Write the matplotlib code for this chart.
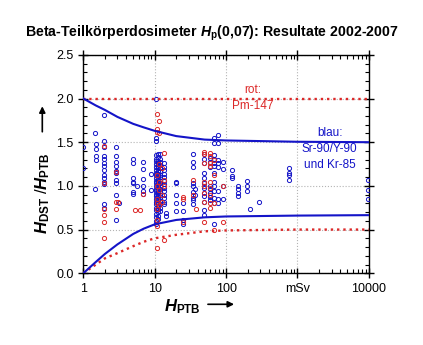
import matplotlib
matplotlib.use('Agg')
import matplotlib.pyplot as plt
from matplotlib.ticker import FixedLocator, MultipleLocator, NullFormatter, FormatStrFormatter
import numpy as np

plt.rcParams['font.family'] = ['Liberation Sans', 'DejaVu Sans']
plt.rcParams['mathtext.fontset'] = 'custom'
plt.rcParams['mathtext.it'] = 'Liberation Sans:italic:bold'
plt.rcParams['mathtext.rm'] = 'Liberation Sans:bold'

# dose ratio H_DST/H_PTB per irradiation, grouped by reference dose H_PTB (mSv)
blue_cols = {
    1.0: [1.45, 1.21],
    1.45: [1.61, 0.96],
    1.5: [1.48, 1.42, 1.34, 1.30],
    1.95: [1.81, 1.51, 1.45, 1.34, 1.31, 1.26, 1.23, 1.18, 1.13, 1.09, 1.05, 1.02, 0.79, 0.75],
    2.9: [1.44, 1.34, 1.27, 1.23, 1.17, 1.15, 1.07, 1.03, 0.90, 0.61],
    3.2: [0.80],
    4.9: [1.31, 1.26, 1.09, 1.05, 1.03, 0.93, 0.91],
    5.6: [1.0],
    6.9: [1.27, 1.19, 1.08, 1.0, 0.94, 0.91],
    8.9: [1.14, 0.95],
    10.5: [2.0, 1.55, 1.51, 1.35, 1.31, 1.28, 1.25, 1.22, 1.18, 1.15, 1.12, 1.09, 1.06, 1.03,
           1.0, 0.97, 0.94, 0.91, 0.88, 0.85, 0.82, 0.79, 0.75, 0.72, 0.68, 0.64, 0.60, 0.56],
    11.2: [1.37, 1.33, 1.29, 1.26, 1.23, 1.20, 1.17, 1.14, 1.11, 1.08, 1.05, 1.02, 0.99, 0.96,
           0.93, 0.90, 0.87, 0.84, 0.80, 0.77, 0.74, 0.70, 0.66, 0.62],
    12.0: [1.36, 1.31, 1.27, 1.24, 1.20, 1.17, 1.13, 1.10, 1.06, 1.03, 1.0, 0.97, 0.94, 0.90,
           0.87, 0.83, 0.79, 0.75, 0.71],
    13.5: [1.26, 1.22, 1.18, 1.14, 1.10, 1.06, 1.02, 0.98, 0.94, 0.90, 0.86, 0.82, 0.79],
    14.5: [0.69, 0.65],
    19.8: [1.05, 1.03, 0.90, 0.80, 0.71],
    25: [0.80, 0.71, 0.61, 0.56],
    34: [1.36, 1.27, 1.22, 1.03, 1.0, 0.93, 0.86, 0.84, 0.79],
    37: [0.97, 0.90],
    49: [1.36, 1.31, 1.26, 1.15, 1.09, 1.03, 0.98, 0.92, 0.88, 0.82, 0.72, 0.67],
    60: [1.32, 1.27, 1.22, 1.0, 0.96, 0.92, 0.87, 0.84],
    68: [1.55, 1.49, 1.35, 1.31, 1.26, 1.23, 1.15, 1.05, 1.0, 0.94, 0.86, 0.80, 0.56],
    78: [1.58, 1.49, 1.30, 1.26, 1.22, 0.94, 0.85, 0.80],
    90: [1.27, 1.19, 1.0, 0.85],
    120: [1.18, 1.11, 1.09],
    145: [1.0, 0.96, 0.92, 0.88],
    195: [1.06, 1.0, 0.94],
    215: [0.74],
    290: [0.81],
    760: [1.21, 1.15, 1.12, 1.07],
    9800: [1.07, 0.95, 0.85],
}

red_cols = {
    1.95: [1.46, 1.03, 0.73, 0.67, 0.59, 0.40],
    2.9: [1.16, 0.82, 0.73],
    3.1: [0.81],
    5.3: [0.72],
    6.3: [0.72],
    6.9: [0.91],
    10.7: [1.82, 1.65, 1.62, 1.12, 1.0, 0.85, 0.80, 0.73, 0.61, 0.54, 0.29],
    11.5: [1.74, 1.60, 1.25, 1.05, 0.95, 0.78],
    12.5: [1.20, 0.90, 0.82],
    13.5: [1.38, 1.07, 1.0, 0.38],
    25: [0.87, 0.85, 0.59],
    34: [1.07, 0.89],
    38: [0.74],
    49: [1.39, 1.36, 1.26, 1.05, 1.0, 0.92, 0.82, 0.59],
    60: [1.38, 1.34, 1.26, 1.23, 1.05, 0.98, 0.90, 0.80, 0.75],
    68: [1.30, 1.13, 0.80, 0.50],
    90: [1.0, 0.59],
}

# limit curves
blue_up_x = [1, 1.5, 2, 3, 5, 7, 10, 20, 50, 100, 1000, 10000]
blue_up_y = [2.0, 1.92, 1.87, 1.79, 1.71, 1.67, 1.63, 1.57, 1.53, 1.52, 1.505, 1.5]
blue_lo_x = [1, 1.5, 2, 3, 5, 7, 10, 20, 50, 100, 1000, 10000]
blue_lo_y = [0.0, 0.13, 0.22, 0.33, 0.45, 0.51, 0.56, 0.61, 0.64, 0.65, 0.66, 0.665]
red_up_x = [1, 10000]
red_up_y = [2.0, 2.0]
red_lo_x = [1, 1.5, 2, 3, 5, 7, 10, 20, 50, 100, 1000, 10000]
red_lo_y = [0.0, 0.1, 0.17, 0.23, 0.31, 0.36, 0.40, 0.44, 0.48, 0.49, 0.5, 0.5]

blue = '#1414c8'
red = '#dc2828'


def flatten(cols):
    xs, ys = [], []
    for x, vals in cols.items():
        xs += [x] * len(vals)
        ys += vals
    return np.array(xs), np.array(ys)


fig = plt.figure(figsize=(4.23, 3.45), dpi=100)
ax = fig.add_axes([0.197, 0.208, 0.675, 0.633])

bx, by = flatten(blue_cols)
rx, ry = flatten(red_cols)
ax.plot(bx, by, 'o', mfc='none', mec=blue, ms=3.0, mew=0.7, zorder=3)
ax.plot(rx, ry, 'o', mfc='none', mec=red, ms=3.0, mew=0.7, zorder=3)

ax.plot(red_up_x, red_up_y, ':', color=red, lw=1.7, zorder=4)
ax.plot(red_lo_x, red_lo_y, ':', color=red, lw=1.7, zorder=4)
ax.plot(blue_up_x, blue_up_y, '-', color=blue, lw=1.5, zorder=5)
ax.plot(blue_lo_x, blue_lo_y, '-', color=blue, lw=1.5, zorder=5)

ax.set_xscale('log')
ax.set_xlim(1, 10000)
ax.set_ylim(0, 2.5)
ax.xaxis.set_major_locator(FixedLocator([1, 10, 100, 1000, 10000]))
ax.set_xticklabels(['1', '10', '100', 'mSv', '10000'])
ax.xaxis.set_minor_formatter(NullFormatter())
ax.yaxis.set_major_locator(MultipleLocator(0.5))
ax.yaxis.set_minor_locator(MultipleLocator(0.1))
ax.yaxis.set_major_formatter(FormatStrFormatter('%.1f'))
ax.tick_params(which='major', direction='inout', length=7, width=1, labelsize=9,
               top=True, right=True)
ax.tick_params(which='minor', direction='in', length=3, width=0.8, top=True, right=True)
for s in ax.spines.values():
    s.set_linewidth(1.0)
ax.grid(which='major', color='#b4b4b4', ls=':', lw=0.8)

ax.text(240, 2.1, 'rot:', color=red, ha='center', va='center', fontsize=8.5)
ax.text(240, 1.91, 'Pm-147', color=red, ha='center', va='center', fontsize=8.5)
ax.text(2830, 1.6, 'blau:', color=blue, ha='center', va='center', fontsize=8.5)
ax.text(2830, 1.42, 'Sr-90/Y-90', color=blue, ha='center', va='center', fontsize=8.5)
ax.text(2830, 1.24, 'und Kr-85', color=blue, ha='center', va='center', fontsize=8.5)

fig.text(0.5, 0.902, r'Beta-Teilkörperdosimeter $H_{\mathrm{p}}$(0,07): Resultate 2002-2007',
         ha='center', va='center', fontsize=10.2, fontweight='bold')

# axis titles with arrows
fig.text(0.43, 0.112, r'$H_{\mathrm{PTB}}$', ha='center', va='center', fontsize=12)
ax.annotate('', xy=(0.56, 0.118), xytext=(0.485, 0.118), xycoords='figure fraction',
            arrowprops=dict(arrowstyle='-|>', color='black', lw=1.2, mutation_scale=9))
fig.text(0.1, 0.44, r'$H_{\mathrm{DST}}$ /$H_{\mathrm{PTB}}$', ha='center', va='center',
         fontsize=12, rotation=90)
ax.annotate('', xy=(0.1, 0.70), xytext=(0.1, 0.61), xycoords='figure fraction',
            arrowprops=dict(arrowstyle='-|>', color='black', lw=1.2, mutation_scale=9))

fig.savefig('out.png', dpi=100)
